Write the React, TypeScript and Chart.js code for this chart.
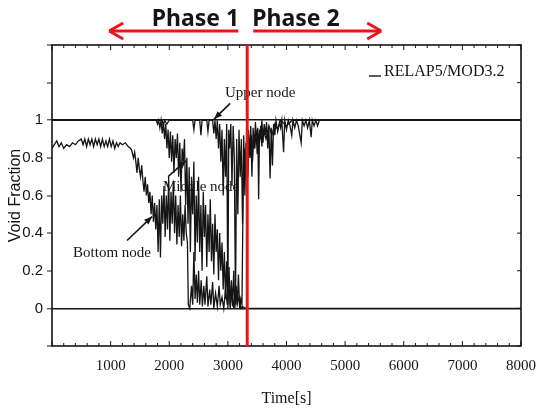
import React, { useEffect, useRef } from 'react';
import { Chart, registerables } from 'chart.js';

Chart.register(...registerables);

// ---- data (time in s, void fraction) ----
const bottomTime = [
  0, 40, 80, 120, 160, 200, 250, 300, 350, 400, 450, 500, 530, 560, 590, 620, 650, 680, 710, 740,
  770, 800, 830, 860, 890, 920, 950, 980, 1010, 1040, 1070, 1100, 1130, 1160, 1200, 1250, 1300, 1340,
  1360, 1390, 1410, 1430, 1450, 1470, 1490, 1510, 1530, 1550, 1570, 1590, 1610, 1630, 1650, 1670,
  1690, 1710, 1730, 1750, 1770, 1790, 1810, 1830, 1850, 1870, 1890, 1910, 1930, 1950, 1970, 1990,
  2010, 2030, 2050, 2070, 2090, 2110, 2130, 2150, 2170, 2190, 2210, 2230, 2250, 2270, 2290, 2310,
  2325, 2350, 2380, 2400, 2420, 2440, 2460, 2480, 2500, 2520, 2545, 2565, 2590, 2610, 2640, 2660,
  2690, 2710, 2740, 2760, 2790, 2820, 2850, 2870, 2900, 2930, 2960, 2990, 3020, 3040, 3070, 3100,
  3130, 3160, 3190, 3220, 3250, 3300, 8000,
];
const bottomVoid = [
  0.85, 0.87, 0.89, 0.86, 0.88, 0.85, 0.87, 0.86, 0.88, 0.87, 0.89, 0.9, 0.87, 0.9, 0.86, 0.9, 0.87, 0.9, 0.86, 0.9,
  0.87, 0.9, 0.86, 0.9, 0.86, 0.89, 0.86, 0.9, 0.86, 0.89, 0.85, 0.88, 0.86, 0.88, 0.87, 0.88, 0.86, 0.85,
  0.84, 0.8, 0.83, 0.78, 0.72, 0.8, 0.74, 0.7, 0.76, 0.68, 0.62, 0.7, 0.6, 0.66, 0.56, 0.62,
  0.5, 0.6, 0.46, 0.56, 0.42, 0.55, 0.3, 0.58, 0.27, 0.6, 0.45, 0.65, 0.38, 0.6, 0.42, 0.7,
  0.36, 0.62, 0.45, 0.68, 0.4, 0.6, 0.34, 0.55, 0.38, 0.6, 0.33, 0.5, 0.36, 0.55, 0.4, 0.35,
  0.02, 0.0, 0.12, 0.02, 0.3, 0.05, 0.18, 0.03, 0.2, 0.02, 0.15, 0.01, 0.12, 0.02, 0.17, 0.01,
  0.1, 0.02, 0.14, 0.0, 0.08, 0.01, 0.12, 0.02, 0.06, 0.0, 0.1, 0.02, 0.15, 0.01, 0.08, 0.0,
  0.12, 0.02, 0.06, 0.0, 0.01, 0.0, 0.0,
];

const middleTime = [
  0, 1780, 1800, 1820, 1840, 1860, 1880, 1900, 1920, 1940, 1960, 1980, 2000, 2020, 2040, 2060, 2080,
  2100, 2120, 2140, 2160, 2180, 2200, 2220, 2240, 2260, 2280, 2300, 2320, 2340, 2360, 2380, 2400,
  2420, 2440, 2460, 2480, 2500, 2520, 2540, 2560, 2580, 2600, 2620, 2640, 2660, 2680, 2700, 2720,
  2740, 2760, 2780, 2800, 2820, 2840, 2860, 2880, 2900, 2920, 2940, 2960, 2980, 3000, 3020, 3040,
  3060, 3080, 3100, 3120, 3140, 3160, 3180, 3200, 3220, 3240, 3260, 3280, 3300, 3320, 3340, 3360,
  3380, 3400, 3420, 3440, 3460, 3480, 3500, 3520, 3540, 3560, 3580, 3600, 3650, 3700, 3750, 3800,
  3850, 3900, 4000, 4100, 8000,
];
const middleVoid = [
  1, 1, 0.98, 1, 0.96, 1, 0.93, 0.99, 0.9, 0.98, 0.85, 0.95, 0.8, 0.94, 0.78, 0.92, 0.72,
  0.9, 0.8, 0.93, 0.7, 0.88, 0.62, 0.85, 0.78, 0.9, 0.55, 0.8, 0.45, 0.75, 0.3, 0.7, 0.5,
  0.78, 0.25, 0.6, 0.35, 0.7, 0.3, 0.55, 0.2, 0.62, 0.38, 0.55, 0.22, 0.5, 0.3, 0.58, 0.25,
  0.45, 0.18, 0.5, 0.3, 0.42, 0.15, 0.4, 0.2, 0.35, 0.1, 0.3, 0.05, 0.25, 0.02, 0.22, 0.0,
  0.15, 0.01, 0.2, 0.0, 0.12, 0.02, 0.18, 0.0, 0.05, 0.02, 0.6, 0.85, 0.75, 0.9, 0.7, 0.88,
  0.8, 0.92, 0.78, 0.9, 0.85, 0.95, 0.82, 0.93, 0.88, 0.97, 0.86, 0.95, 0.9, 0.97, 0.92, 0.98,
  0.95, 1, 0.97, 1, 1,
];

const upperTime = [
  0, 1880, 1900, 1920, 1960, 2000, 2400, 2420, 2440, 2520, 2540, 2560, 2640, 2660, 2680, 2740,
  2760, 2780, 2800, 2820, 2840, 2860, 2880, 2900, 2920, 2940, 2960, 2980, 3000, 3015, 3030, 3050,
  3070, 3090, 3110, 3130, 3150, 3170, 3190, 3210, 3230, 3250, 3270, 3290, 3310, 3330, 3350, 3370,
  3390, 3410, 3430, 3450, 3470, 3490, 3510, 3525, 3540, 3560, 3580, 3600, 3620, 3640, 3660, 3680,
  3700, 3720, 3740, 3760, 3780, 3800, 3820, 3850, 3880, 3900, 3920, 3950, 3970, 4000, 4030, 4060,
  4090, 4110, 4140, 4170, 4200, 4250, 4270, 4300, 4330, 4360, 4390, 4420, 4440, 4470, 4500, 4530,
  4560, 8000,
];
const upperVoid = [
  1, 1, 0.97, 1, 0.98, 1, 1, 0.95, 1, 1, 0.92, 1, 1, 0.94, 1, 1,
  0.93, 1, 0.9, 1, 0.85, 0.98, 0.78, 0.95, 0.6, 0.9, 0.7, 0.98, 0.0, 0.95, 0.85, 0.98,
  0.65, 0.97, 0.8, 0.02, 0.9, 0.5, 0.95, 0.7, 0.9, 0.45, 0.92, 0.6, 0.88, 0.72, 0.95, 0.82,
  0.97, 0.7, 0.96, 0.85, 0.99, 0.88, 0.96, 0.58, 0.95, 0.9, 1, 0.88, 0.98, 0.92, 0.99, 0.85,
  0.97, 0.69, 0.96, 0.76, 0.98, 0.92, 1, 0.94, 0.99, 0.96, 1, 0.83, 1, 0.95, 1, 0.97,
  0.92, 1, 0.96, 1, 0.97, 0.88, 1, 0.97, 1, 0.96, 1, 0.91, 1, 0.97, 1, 0.97,
  1, 1,
];

const phaseBoundary = 3330;
const phaseLabels = ['Phase 1', 'Phase 2'];
const legendLabel = 'RELAP5/MOD3.2';
const xTitle = 'Time[s]';
const yTitle = 'Void Fraction';

// annotation labels placed in data units
const noteLabels = ['Upper node', 'Middle node', 'Bottom node'];
const noteTextAt = [[3550, 1.145], [2543, 0.647], [1024, 0.293]];
const noteArrowFrom = [[3038, 1.09], [1980, 0.70], [1280, 0.361]];
const noteArrowTo = [[2765, 1.006], [2287, 0.785], [1707, 0.488]];

const SERIF = '"Liberation Serif", "Times New Roman", serif';
const SANS = '"Liberation Sans", Arial, sans-serif';
const INK = '#151515';
const RED = '#e8161c';

function toPoints(ts: number[], vs: number[]) {
  return ts.map((t, i) => ({ x: t, y: vs[i] }));
}

const overlay = {
  id: 'overlay',
  afterDatasetsDraw(chart: any) {
    const { ctx, chartArea: a, scales } = chart;
    const x = scales.x;
    const y = scales.y;
    ctx.save();
    const seg = (x0: number, y0: number, x1: number, y1: number) => {
      ctx.beginPath();
      ctx.moveTo(x0, y0);
      ctx.lineTo(x1, y1);
      ctx.stroke();
    };
    // frame
    ctx.strokeStyle = INK;
    ctx.lineWidth = 1.6;
    ctx.strokeRect(a.left, a.top, a.right - a.left, a.bottom - a.top);
    // inner ticks along top and bottom
    ctx.lineWidth = 1;
    for (let t = x.min; t <= x.max; t += 200) {
      const px = x.getPixelForValue(t);
      const len = t % 1000 === 0 ? 5 : 3;
      seg(px, a.bottom, px, a.bottom - len);
      seg(px, a.top, px, a.top + len);
    }
    // inner ticks on right side
    for (const tk of y.ticks) {
      const py = y.getPixelForValue(tk.value);
      seg(a.right, py, a.right - 4, py);
    }
    // annotations
    ctx.fillStyle = INK;
    ctx.font = `15px ${SERIF}`;
    ctx.textAlign = 'center';
    ctx.textBaseline = 'middle';
    noteLabels.forEach((label, i) => {
      const tx = x.getPixelForValue(noteTextAt[i][0]);
      const ty = y.getPixelForValue(noteTextAt[i][1]);
      ctx.fillText(label, tx, ty);
      const x0 = x.getPixelForValue(noteArrowFrom[i][0]);
      const y0 = y.getPixelForValue(noteArrowFrom[i][1]);
      const x1 = x.getPixelForValue(noteArrowTo[i][0]);
      const y1 = y.getPixelForValue(noteArrowTo[i][1]);
      ctx.lineWidth = 1.6;
      seg(x0, y0, x1, y1);
      const ang = Math.atan2(y1 - y0, x1 - x0);
      const L = 8, W = 3.2;
      ctx.beginPath();
      ctx.moveTo(x1, y1);
      ctx.lineTo(x1 - L * Math.cos(ang) + W * Math.sin(ang), y1 - L * Math.sin(ang) - W * Math.cos(ang));
      ctx.lineTo(x1 - L * Math.cos(ang) - W * Math.sin(ang), y1 - L * Math.sin(ang) + W * Math.cos(ang));
      ctx.closePath();
      ctx.fill();
    });
    // legend
    ctx.lineWidth = 1.4;
    seg(a.right - 152, a.top + 31, a.right - 140, a.top + 31);
    ctx.font = `16px ${SERIF}`;
    ctx.textAlign = 'left';
    ctx.textBaseline = 'alphabetic';
    ctx.fillText(legendLabel, a.right - 137, a.top + 31);
    // red phase boundary
    const rx = x.getPixelForValue(phaseBoundary);
    ctx.strokeStyle = RED;
    ctx.lineWidth = 3;
    seg(rx, a.top, rx, a.bottom + 1);
    // phase arrows
    const ay = 31;
    seg(rx - 9, ay, rx - 138, ay);
    seg(rx - 138, ay, rx - 124, ay - 8);
    seg(rx - 138, ay, rx - 124, ay + 8);
    seg(rx + 6, ay, rx + 134, ay);
    seg(rx + 134, ay, rx + 120, ay - 8);
    seg(rx + 134, ay, rx + 120, ay + 8);
    // phase labels
    ctx.fillStyle = INK;
    ctx.font = `bold 23px "Noto Sans", ${SANS}`;
    ctx.textAlign = 'right';
    ctx.fillText(phaseLabels[0], rx - 8, 26);
    ctx.textAlign = 'left';
    ctx.fillText(phaseLabels[1], rx + 5, 26);
    ctx.restore();
  },
};

export default function App() {
  const ref = useRef<HTMLCanvasElement>(null);
  useEffect(() => {
    if (!ref.current) return;
    const line = (label: string, ts: number[], vs: number[]) => ({
      label,
      data: toPoints(ts, vs),
      borderColor: INK,
      backgroundColor: INK,
      borderWidth: 1.3,
      pointRadius: 0,
      tension: 0,
    });
    const isRef = (v: number) => Math.abs(v) < 1e-6 || Math.abs(v - 1) < 1e-6;
    const chart = new Chart(ref.current, {
      type: 'line',
      data: {
        datasets: [
          line('Bottom node', bottomTime, bottomVoid),
          line('Middle node', middleTime, middleVoid),
          line('Upper node', upperTime, upperVoid),
        ],
      },
      options: {
        animation: false,
        responsive: false,
        events: [],
        layout: { padding: { left: 0, right: 27, top: 45, bottom: 0 } },
        plugins: { legend: { display: false }, tooltip: { enabled: false } },
        scales: {
          x: {
            type: 'linear',
            min: 0,
            max: 8000,
            grid: { display: false, drawTicks: false },
            border: { display: false },
            ticks: {
              stepSize: 1000,
              autoSkip: false,
              maxRotation: 0,
              padding: 11,
              color: INK,
              font: { family: SERIF, size: 15 },
              callback: (v: any) => (Number(v) === 0 ? '' : String(v)),
            },
            title: {
              display: true,
              text: xTitle,
              color: INK,
              font: { family: SERIF, size: 16 },
              padding: { top: 0, bottom: 2 },
            },
            afterFit: (s: any) => {
              s.height = 64;
            },
          },
          y: {
            type: 'linear',
            min: -0.2,
            max: 1.4,
            grid: {
              drawTicks: true,
              tickLength: 5,
              tickWidth: 1,
              tickColor: INK,
              lineWidth: (c: any) => (isRef(c.tick.value) ? 1.6 : 0),
              color: (c: any) => (isRef(c.tick.value) ? INK : 'rgba(0,0,0,0)'),
            },
            border: { display: false },
            ticks: {
              stepSize: 0.2,
              padding: 4,
              color: INK,
              font: { family: SANS, size: 15 },
              callback: (v: any) => {
                const r = Math.round(Number(v) * 10) / 10;
                return r < 0 || r > 1 ? '' : String(r);
              },
            },
            title: {
              display: true,
              text: yTitle,
              color: INK,
              font: { family: SANS, size: 16 },
              padding: { top: 6, bottom: 0 },
            },
            afterFit: (s: any) => {
              s.width = 52;
            },
          },
        },
      },
      plugins: [overlay],
    });
    return () => chart.destroy();
  }, []);
  return (
    <div style={{ position: 'absolute', left: 0, top: 0, width: 548, height: 410, background: '#fff' }}>
      <canvas ref={ref} width={548} height={410} />
    </div>
  );
}
